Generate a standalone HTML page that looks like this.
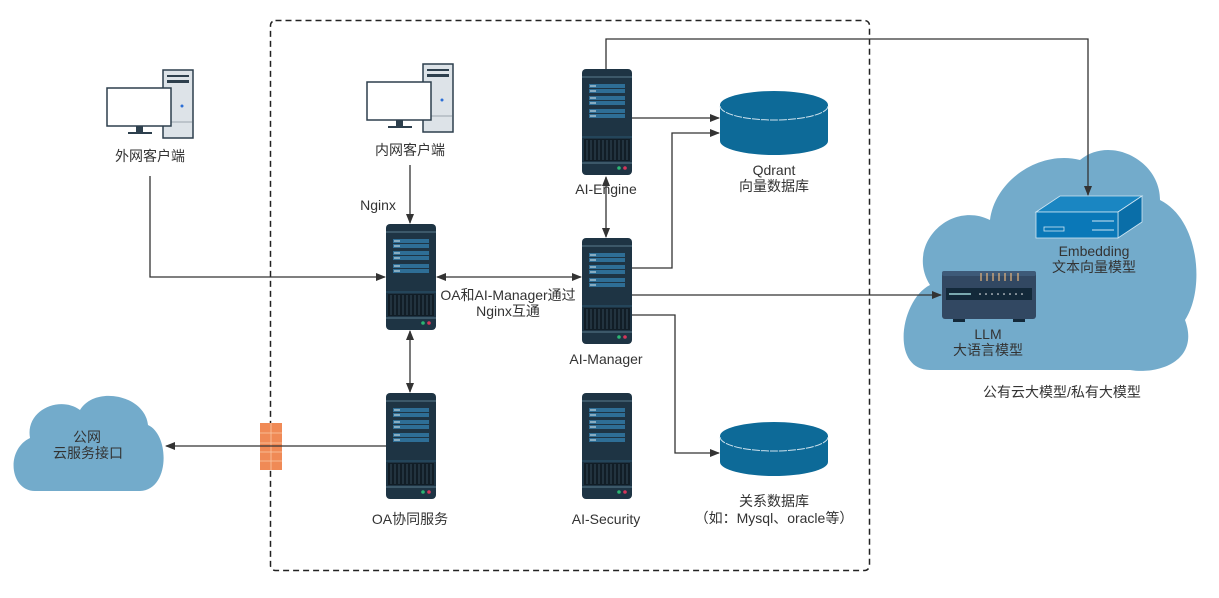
<!DOCTYPE html>
<html><head><meta charset="utf-8"><style>
html,body{margin:0;padding:0;background:#fff;}
svg text{font-family:"Liberation Sans","Noto Sans CJK SC",sans-serif;font-size:14px;fill:#333;}
</style></head><body>
<svg width="1219" height="593" viewBox="0 0 1219 593" xmlns="http://www.w3.org/2000/svg">
<defs>
<marker id="a" markerWidth="10" markerHeight="10" refX="9" refY="5" orient="auto-start-reverse" markerUnits="userSpaceOnUse"><path d="M0,1 L10,5 L0,9 Z" fill="#333"/></marker>
<g id="srv">
<rect x="0" y="0" width="50" height="106" rx="4" fill="#1e3444"/>
<line x1="0" y1="8" x2="50" y2="8" stroke="#5b7b8e" stroke-width="1"/>
<rect x="7" y="15" width="36" height="4" fill="#2e6e96"/><rect x="7" y="20" width="36" height="4" fill="#2e6e96"/>
<rect x="7" y="27" width="36" height="4" fill="#2e6e96"/><rect x="7" y="32" width="36" height="4" fill="#2e6e96"/>
<rect x="7" y="40" width="36" height="4" fill="#2e6e96"/><rect x="7" y="45" width="36" height="4" fill="#2e6e96"/>
<g stroke="#dfe9ef" stroke-width="1"><line x1="8" y1="17" x2="14" y2="17"/><line x1="8" y1="22" x2="14" y2="22"/><line x1="8" y1="29" x2="14" y2="29"/><line x1="8" y1="34" x2="14" y2="34"/><line x1="8" y1="42" x2="14" y2="42"/><line x1="8" y1="47" x2="14" y2="47"/></g>
<line x1="0" y1="68" x2="50" y2="68" stroke="#2a5670" stroke-width="1"/>
<rect x="2" y="70" width="46" height="22" fill="#111d26"/>
<g stroke="#3b5566" stroke-width="0.8"><line x1="5" y1="71" x2="5" y2="91"/><line x1="9" y1="71" x2="9" y2="91"/><line x1="13" y1="71" x2="13" y2="91"/><line x1="17" y1="71" x2="17" y2="91"/><line x1="21" y1="71" x2="21" y2="91"/><line x1="25" y1="71" x2="25" y2="91"/><line x1="29" y1="71" x2="29" y2="91"/><line x1="33" y1="71" x2="33" y2="91"/><line x1="37" y1="71" x2="37" y2="91"/><line x1="41" y1="71" x2="41" y2="91"/><line x1="45" y1="71" x2="45" y2="91"/></g>
<line x1="0" y1="94" x2="50" y2="94" stroke="#5b7b8e" stroke-width="1"/>
<circle cx="37" cy="99" r="1.8" fill="#2bb673"/><circle cx="43" cy="99" r="1.8" fill="#d6365a"/>
</g>
<g id="pc">
<rect x="57" y="0" width="30" height="68" fill="#dde3e8" stroke="#2d3f4d" stroke-width="1.5"/>
<rect x="61" y="5" width="22" height="2" fill="#2d3f4d"/><rect x="61" y="10" width="22" height="3" fill="#2d3f4d"/>
<line x1="58" y1="52" x2="86" y2="52" stroke="#9aa6ae" stroke-width="1"/>
<circle cx="76" cy="36" r="1.5" fill="#2b6fd6"/>
<rect x="1" y="18" width="64" height="38" fill="#fff" stroke="#2d3f4d" stroke-width="1.5"/>
<rect x="30" y="56" width="7" height="6" fill="#2d3f4d"/><rect x="22" y="62" width="24" height="2" fill="#2d3f4d"/>
</g>
</defs>

<rect x="270.5" y="20.5" width="599" height="550" rx="5" fill="none" stroke="#222" stroke-width="1.5" stroke-dasharray="6,4"/>

<!-- clouds -->
<path d="M930,370 C890,370 900,300 930,285 C905,245 950,200 990,220 C995,180 1040,150 1080,160 C1110,135 1160,160 1160,200 C1200,220 1205,290 1185,320 C1200,360 1160,375 1130,370 Z" fill="#73abcb"/>
<path d="M35,491 C10,491 5,450 30,438 C25,410 60,395 80,410 C95,385 145,395 148,425 C170,435 170,490 140,491 Z" fill="#73abcb"/>
<text x="87" y="442" text-anchor="middle">公网</text>
<text x="88" y="458" text-anchor="middle">云服务接口</text>

<!-- PCs -->
<use href="#pc" x="106" y="70"/>
<use href="#pc" x="366" y="64"/>
<text x="150" y="161" text-anchor="middle">外网客户端</text>
<text x="410" y="155" text-anchor="middle">内网客户端</text>

<!-- servers -->
<use href="#srv" x="386" y="224"/>
<use href="#srv" x="582" y="238"/>
<use href="#srv" x="582" y="69"/>
<use href="#srv" x="386" y="393"/>
<use href="#srv" x="582" y="393"/>
<text x="378" y="210" text-anchor="middle">Nginx</text>
<text x="606" y="194" text-anchor="middle">AI-Engine</text>
<text x="606" y="364" text-anchor="middle">AI-Manager</text>
<text x="410" y="524" text-anchor="middle">OA协同服务</text>
<text x="606" y="524" text-anchor="middle">AI-Security</text>
<text x="508" y="300" text-anchor="middle">OA和AI-Manager通过</text>
<text x="508" y="316" text-anchor="middle">Nginx互通</text>

<!-- databases -->
<g fill="#0d6a98">
<path d="M720,105 L720,141 A54,14 0 0 0 828,141 L828,105 Z"/><ellipse cx="774" cy="105" rx="54" ry="14"/>
<path d="M720,436 L720,462 A54,14 0 0 0 828,462 L828,436 Z"/><ellipse cx="774" cy="436" rx="54" ry="14"/>
</g>
<path d="M720,106 A54,14 0 0 0 828,106" fill="none" stroke="#cfe3ee" stroke-width="1" stroke-dasharray="8,1"/>
<path d="M720,437 A54,14 0 0 0 828,437" fill="none" stroke="#cfe3ee" stroke-width="1" stroke-dasharray="8,1"/>
<text x="774" y="175" text-anchor="middle">Qdrant</text>
<text x="774" y="191" text-anchor="middle">向量数据库</text>
<text x="774" y="506" text-anchor="middle">关系数据库</text>
<text x="774" y="523" text-anchor="middle">（如：Mysql、oracle等）</text>

<!-- embedding device -->
<polygon points="1036,212 1060,196 1142,196 1118,212" fill="#1a86c2" stroke="#cfe6f3" stroke-width="0.8"/>
<polygon points="1118,212 1142,196 1142,222 1118,238" fill="#0a6ea8" stroke="#cfe6f3" stroke-width="0.8"/>
<rect x="1036" y="212" width="82" height="26" fill="#0a78b8" stroke="#cfe6f3" stroke-width="0.8"/>
<rect x="1044" y="227" width="20" height="4" fill="none" stroke="#cfe6f3" stroke-width="0.8"/>
<line x1="1092" y1="221" x2="1114" y2="221" stroke="#cfe6f3"/><line x1="1092" y1="230" x2="1114" y2="230" stroke="#cfe6f3"/>
<text x="1094" y="256" text-anchor="middle">Embedding</text>
<text x="1094" y="272" text-anchor="middle">文本向量模型</text>

<!-- LLM device -->
<rect x="942" y="271" width="94" height="48" rx="3" fill="#324862"/>
<rect x="942" y="271" width="94" height="5" rx="2" fill="#3e5a78"/>
<g stroke="#e7b57c" stroke-width="1.2"><line x1="981" y1="273" x2="981" y2="281"/><line x1="987" y1="273" x2="987" y2="281"/><line x1="993" y1="273" x2="993" y2="281"/><line x1="999" y1="273" x2="999" y2="281"/><line x1="1005" y1="273" x2="1005" y2="281"/><line x1="1011" y1="273" x2="1011" y2="281"/><line x1="1018" y1="273" x2="1018" y2="281"/></g>
<rect x="946" y="288" width="86" height="12" fill="#13293a"/>
<rect x="949" y="293" width="22" height="2" fill="#7aa9b0"/>
<g fill="#fff"><circle cx="980" cy="294" r="0.8"/><circle cx="986" cy="294" r="0.8"/><circle cx="992" cy="294" r="0.8"/><circle cx="998" cy="294" r="0.8"/><circle cx="1004" cy="294" r="0.8"/><circle cx="1010" cy="294" r="0.8"/><circle cx="1016" cy="294" r="0.8"/><circle cx="1022" cy="294" r="0.8"/></g>
<rect x="953" y="319" width="12" height="3" fill="#13293a"/><rect x="1013" y="319" width="12" height="3" fill="#13293a"/>
<text x="988" y="339" text-anchor="middle">LLM</text>
<text x="988" y="355" text-anchor="middle">大语言模型</text>
<text x="1062" y="397" text-anchor="middle">公有云大模型/私有大模型</text>

<!-- firewall -->
<g fill="#f08a56"><rect x="260" y="423" width="22" height="47"/></g>
<g stroke="#fbc9a8" stroke-width="0.8"><line x1="260" y1="433" x2="282" y2="433"/><line x1="260" y1="443" x2="282" y2="443"/><line x1="260" y1="452" x2="282" y2="452"/><line x1="260" y1="461" x2="282" y2="461"/><line x1="271" y1="423" x2="271" y2="470"/></g>

<!-- connectors -->
<g fill="none" stroke="#333" stroke-width="1.3">
<polyline points="150,176 150,277 385,277" marker-end="url(#a)"/>
<line x1="410" y1="165" x2="410" y2="223" marker-end="url(#a)"/>
<line x1="437" y1="277" x2="581" y2="277" marker-start="url(#a)" marker-end="url(#a)"/>
<line x1="410" y1="331" x2="410" y2="392" marker-start="url(#a)" marker-end="url(#a)"/>
<line x1="606" y1="177" x2="606" y2="237" marker-start="url(#a)" marker-end="url(#a)"/>
<polyline points="606,69 606,39 1088,39 1088,195" marker-end="url(#a)"/>
<line x1="632" y1="118" x2="719" y2="118" marker-end="url(#a)"/>
<polyline points="632,268 672,268 672,133 719,133" marker-end="url(#a)"/>
<line x1="632" y1="295" x2="941" y2="295" marker-end="url(#a)"/>
<polyline points="632,315 675,315 675,453 719,453" marker-end="url(#a)"/>
<line x1="386" y1="446" x2="166" y2="446" marker-end="url(#a)"/>
</g>
</svg>
</body></html>
